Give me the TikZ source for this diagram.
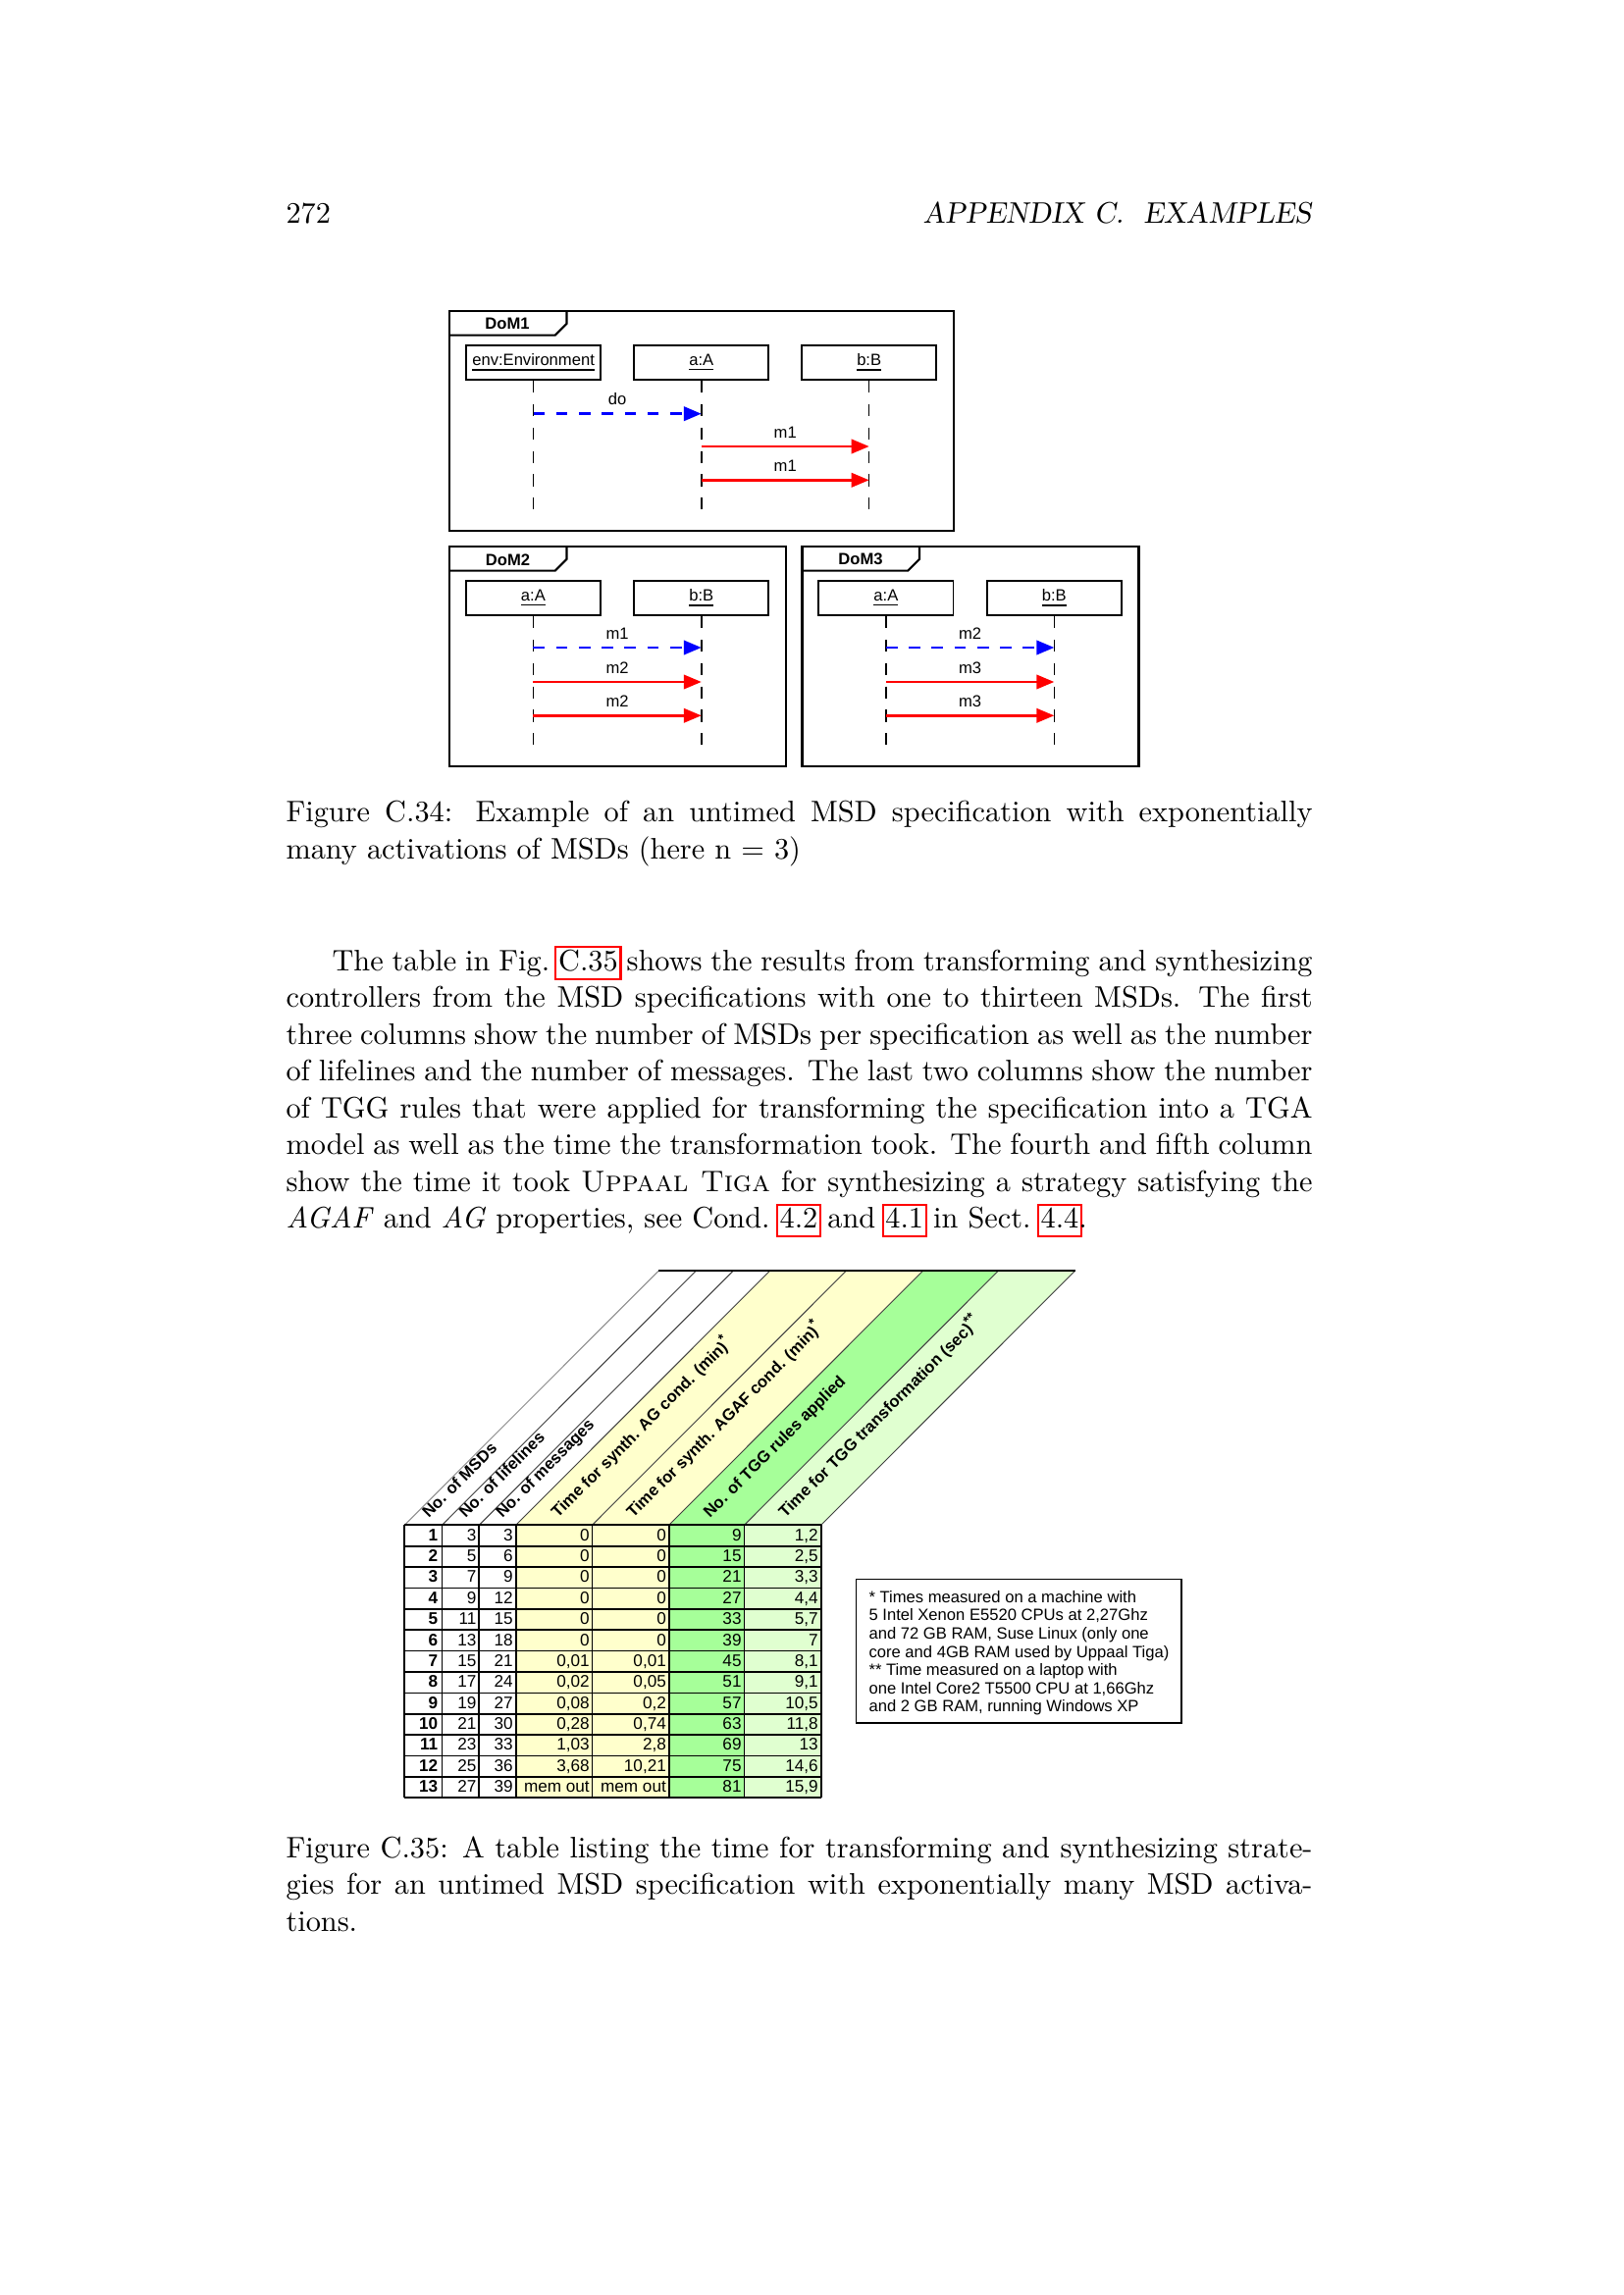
\documentclass[tikz,border=0pt]{standalone}
\usepackage{fontspec}
\newfontfamily\arial{Liberation Sans}
\usetikzlibrary{arrows.meta}

\definecolor{synthyellow}{RGB}{255,255,204}
\definecolor{rulegreen}{RGB}{166,255,153}
\definecolor{tgggreen}{RGB}{224,255,208}

\newcommand\bodyfont{\fontsize{10.95}{13.6}\selectfont}
\newcommand\sansfont{\arial\fontsize{6}{7.2}\selectfont}
\newcommand\reflink[1]{{\setlength\fboxsep{0.6pt}\setlength\fboxrule{0.8pt}\kern-1.4pt\textcolor{red}{\fbox{\textcolor{black}{\rule[-2.2pt]{0pt}{9.2pt}#1}}}\kern-1.4pt}}
\newcommand\jline[3]{\node[textline] (#1) at (291,#2) {\makebox[132.84mm][s]{#3}};}

\tikzset{
  textline/.style={anchor=base west, inner sep=0pt, font=\bodyfont},
  frameline/.style={line width=0.75pt},
  tablabel/.style={inner sep=0pt, font=\sansfont\bfseries},
  lifebox/.style={draw, line width=0.7pt, minimum width=17.42mm, minimum height=4.45mm, inner sep=0pt, font=\sansfont},
  lifeline/.style={line width=0.55pt, dash pattern=on 4.4pt off 4.2pt},
  envmsg/.style={draw=blue, line width=1pt, dash pattern=on 4.2pt off 4.2pt, -{Triangle[length=6.5pt,width=5.2pt]}},
  sysmsg/.style={draw=red, line width=0.9pt, -{Triangle[length=6.5pt,width=5.2pt]}},
  msglabel/.style={inner sep=0pt, font=\sansfont, yshift=5.3pt},
  headlabel/.style={anchor=base west, inner sep=0pt, rotate=45, font=\sansfont\bfseries},
  headline/.style={line width=0.35pt, black!75},
  gridline/.style={line width=0.6pt},
  cell/.style={anchor=base east, inner sep=0pt, font=\arial\fontsize{6.2}{7.4}\selectfont},
}

\begin{document}
\begin{tikzpicture}[x=0.127mm, y=-0.127mm]
\useasboundingbox (0,0) rectangle (1654,2339);

% running head
\node[textline] (pagenum) at (291,227.3) {272};
\node[textline, anchor=base east] (runhead) at (1337,227.3) {\slshape APPENDIX C.\ \ EXAMPLES};

% DoM1
\begin{scope}[shift={(458,317.3)}]
  \draw[frameline] (0,0) rectangle (514,223.4);
  \draw[frameline] (0,24.4) -- (107.7,24.4) -- (119.5,12.5) -- (119.5,0);
  \node[tablabel] (dom1) at (59,13) {DoM1};
  \node[lifebox] (env1) at (85.6,52.5) {\underline{env:Environment}};
  \node[lifebox] (a1) at (256.8,52.5) {\underline{a:A}};
  \node[lifebox] (b1) at (427.7,52.5) {\underline{b:B}};
  \foreach \lf in {env1,a1,b1} \draw[lifeline] (\lf.south) -- (\lf.south |- 0,206);
  \draw[envmsg] (env1.south |- 0,104.4) -- (a1.south |- 0,104.4) node[midway, msglabel] (do1) {do};
  \draw[sysmsg] (a1.south |- 0,137.7) -- (b1.south |- 0,137.7) node[midway, msglabel] (m1a) {m1};
  \draw[sysmsg] (a1.south |- 0,172) -- (b1.south |- 0,172) node[midway, msglabel] (m1b) {m1};
\end{scope}

% DoM2
\begin{scope}[shift={(458,557.3)}]
  \draw[frameline] (0,0) rectangle (343,223.4);
  \draw[frameline] (0,24.4) -- (107.7,24.4) -- (119.5,12.5) -- (119.5,0);
  \node[tablabel] (dom2) at (59.5,13) {DoM2};
  \node[lifebox] (a2) at (85.4,52.5) {\underline{a:A}};
  \node[lifebox] (b2) at (256.8,52.5) {\underline{b:B}};
  \foreach \lf in {a2,b2} \draw[lifeline] (\lf.south) -- (\lf.south |- 0,206);
  \draw[envmsg] (a2.south |- 0,102.7) -- (b2.south |- 0,102.7) node[midway, msglabel] (m1c) {m1};
  \draw[sysmsg] (a2.south |- 0,137.7) -- (b2.south |- 0,137.7) node[midway, msglabel] (m2a) {m2};
  \draw[sysmsg] (a2.south |- 0,172) -- (b2.south |- 0,172) node[midway, msglabel] (m2b) {m2};
\end{scope}

% DoM3
\begin{scope}[shift={(817.5,557.3)}]
  \draw[frameline] (0,0) rectangle (343,223.4);
  \draw[frameline] (0,24.4) -- (107.7,24.4) -- (119.5,12.5) -- (119.5,0);
  \node[tablabel] (dom3) at (59.5,13) {DoM3};
  \node[lifebox] (a3) at (85.4,52.5) {\underline{a:A}};
  \node[lifebox] (b3) at (256.8,52.5) {\underline{b:B}};
  \foreach \lf in {a3,b3} \draw[lifeline] (\lf.south) -- (\lf.south |- 0,206);
  \draw[envmsg] (a3.south |- 0,102.7) -- (b3.south |- 0,102.7) node[midway, msglabel] (m2c) {m2};
  \draw[sysmsg] (a3.south |- 0,137.7) -- (b3.south |- 0,137.7) node[midway, msglabel] (m3a) {m3};
  \draw[sysmsg] (a3.south |- 0,172) -- (b3.south |- 0,172) node[midway, msglabel] (m3b) {m3};
\end{scope}

% caption C.34
\jline{cap34}{837.7}{Figure C.34: Example of an untimed MSD specification with exponentially}
\node[textline] (cap34b) at (291,875.2) {many activations of MSDs (here n $=$ 3)};

% paragraph
\jline{par1}{989}{\hspace*{17pt}The table in Fig.~\reflink{C.35} shows the results from transforming and synthesizing}
\jline{par2}{1026.5}{controllers from the MSD specifications with one to thirteen MSDs. The first}
\jline{par3}{1064}{three columns show the number of MSDs per specification as well as the number}
\jline{par4}{1101.5}{of lifelines and the number of messages. The last two columns show the number}
\jline{par5}{1139}{of TGG rules that were applied for transforming the specification into a TGA}
\jline{par6}{1176.5}{model as well as the time the transformation took. The fourth and fifth column}
\jline{par7}{1214}{show the time it took \textsc{Uppaal Tiga} for synthesizing a strategy satisfying the}
\node[textline] (par8) at (291,1251.5) {\textit{AGAF} and \textit{AG} properties, see Cond.~\reflink{4.2} and \reflink{4.1} in Sect.~\reflink{4.4}.};

% table: coloured bands
\foreach \l/\r/\c in {412.3/450.5/white, 450.5/488.3/white, 488.3/525.7/white, 525.7/603.5/synthyellow, 603.5/681.7/synthyellow, 681.7/758.5/rulegreen, 758.5/836.7/tgggreen}{
  \fill[\c] (\l,1554.3) -- (\r,1554.3) -- ++(259,-259.3) -- (\l+259,1295) -- cycle;
  \fill[\c] (\l,1554.3) rectangle (\r,1832.3);
}
\draw[headline, black!45] (412.3,1554.3) -- ++(259,-259.3);
\foreach \x in {450.5,488.3,525.7,603.5,681.7,758.5,836.7} \draw[headline] (\x,1554.3) -- ++(259,-259.3);
\draw[line width=0.6pt] (671.3,1295) -- (1095.7,1295);
\foreach \x/\t [count=\j] in {436.7/{No. of MSDs}, 474.3/{No. of lifelines}, 511.7/{No. of messages}, 568.3/{Time for synth. AG cond. (min)\textsuperscript{*}}, 645/{Time for synth. AGAF cond. (min)\textsuperscript{*}}, 723.3/{No. of TGG rules applied}, 800/{Time for TGG transformation (sec)\textsuperscript{**}}}
  \node[headlabel] (head\j) at (\x,1548) {\t};

% table: grid
\foreach \i in {0,...,13} \draw[gridline] (412.3,1554.3+21.385*\i) -- (836.7,1554.3+21.385*\i);
\foreach \x in {412.3,450.5,488.3,525.7,603.5,681.7,758.5,836.7} \draw[gridline] (\x,1554.3) -- (\x,1832.3);

% table: values
\foreach \k/\ag/\agaf/\tgg [evaluate=\k as \nlf using int(2*\k+1), evaluate=\k as \nms using int(3*\k), evaluate=\k as \nru using int(6*\k+3), evaluate=\k as \yrow using 1554.3+21.385*(\k-1)+15.8] in {1/0/0/{1,2}, 2/0/0/{2,5}, 3/0/0/{3,3}, 4/0/0/{4,4}, 5/0/0/{5,7}, 6/0/0/7, 7/{0,01}/{0,01}/{8,1}, 8/{0,02}/{0,05}/{9,1}, 9/{0,08}/{0,2}/{10,5}, 10/{0,28}/{0,74}/{11,8}, 11/{1,03}/{2,8}/13, 12/{3,68}/{10,21}/{14,6}, 13/{mem out}/{mem out}/{15,9}}{
  \node[cell] (msd\k) at (446.8,\yrow) {\bfseries\k};
  \node[cell] (lif\k) at (485.9,\yrow) {\nlf};
  \node[cell] (mes\k) at (523.3,\yrow) {\nms};
  \node[cell] (ag\k) at (601.3,\yrow) {\ag};
  \node[cell] (agaf\k) at (679.4,\yrow) {\agaf};
  \node[cell] (rul\k) at (756.1,\yrow) {\nru};
  \node[cell] (tgg\k) at (834.3,\yrow) {\tgg};
}

% footnote box
\draw[line width=0.5pt] (872.7,1609.3) rectangle (1204,1756);
\foreach \t [count=\i from 0] in {{* Times measured on a machine with}, {5 Intel Xenon E5520 CPUs at 2,27Ghz}, {and 72 GB RAM, Suse Linux (only one}, {core and 4GB RAM used by Uppaal Tiga)}, {** Time measured on a laptop with}, {one Intel Core2 T5500 CPU at 1,66Ghz}, {and 2 GB RAM, running Windows XP}}
  \node[anchor=base west, inner sep=0pt, font=\sansfont] (note\i) at (885,1633.3+18.6*\i) {\t};

% caption C.35
\jline{cap35}{1893}{Figure C.35: A table listing the time for transforming and synthesizing strate-}
\jline{cap35b}{1930.5}{gies for an untimed MSD specification with exponentially many MSD activa-}
\node[textline] (cap35c) at (291,1968) {tions.};
\end{tikzpicture}
\end{document}
